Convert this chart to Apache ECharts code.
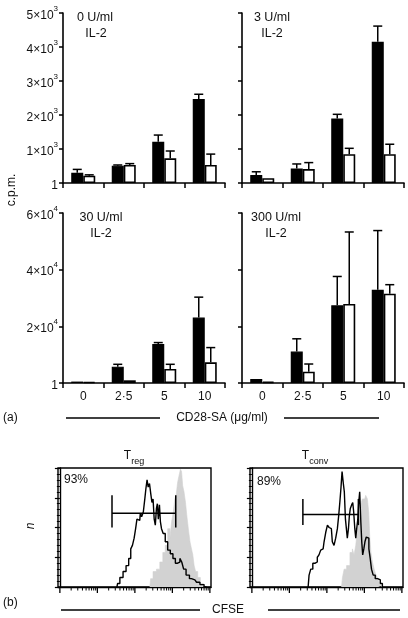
<!DOCTYPE html>
<html>
<head>
<meta charset="utf-8">
<script src="https://cdn.jsdelivr.net/npm/echarts@6/dist/echarts.min.js"></script>
<style>html,body{margin:0;padding:0;background:#fff}#c{width:408px;height:618px}</style>
</head>
<body>
<div id="c"></div>
<script>
// ---------- data (a): c.p.m. vs CD28-SA dose ----------
const doseCats = ['0', '2·5', '5', '10'];
const il2Panels = ['0 U/ml', '3 U/ml', '30 U/ml', '300 U/ml'];
const yTicksSmall = ['1', '1×10^3', '2×10^3', '3×10^3', '4×10^3', '5×10^3'];
const yTicksLarge = ['1', '2×10^4', '4×10^4', '6×10^4'];

const tregU0 = [300, 510, 1215, 2470];
const tregU0Err = [100, 20, 195, 140];
const tconvU0 = [215, 530, 726, 530];
const tconvU0Err = [25, 40, 215, 320];

const tregU3 = [235, 430, 1900, 4155];
const tregU3Err = [95, 130, 120, 460];
const tconvU3 = [140, 410, 845, 845];
const tconvU3Err = [0, 190, 175, 295];

const tregU30 = [500, 5770, 13800, 23100];
const tregU30Err = [0, 830, 470, 7200];
const tconvU30 = [400, 950, 4950, 7300];
const tconvU30Err = [0, 0, 1650, 5200];

const tregU300 = [1400, 11100, 27400, 32900];
const tregU300Err = [0, 4500, 10200, 20900];
const tconvU300 = [460, 4000, 27900, 31500];
const tconvU300Err = [0, 2700, 25400, 3200];

// ---------- data (b): CFSE histograms (x = log10 intensity, y = % of max) ----------
const tregLineX = [1.52,1.56,1.64,1.73,1.80,1.87,1.91,1.96,2.00,2.04,2.07,2.13,2.16,2.20,2.25,2.28,2.31,2.34,2.37,2.41,2.44,2.47,2.50,2.53,2.56,2.59,2.61,2.64,2.67,2.69,2.73,2.78,2.84,2.91,2.98,3.05,3.11,3.17,3.23,3.27,3.33,3.40,3.51,3.60,3.69,3.78,3.91];
const tregLineN = [0,3,8,13,18,24,32,35,41,49,57,56,62,59,63,74,83,90,84,87,78,71,74,57,52,66,70,57,69,55,49,45,38,31,28,24,20,21,24,21,15,10,7,6,4,2,0];
const tregCtrlX = [2.40,2.44,2.53,2.62,2.71,2.78,2.84,2.91,2.96,3.00,3.05,3.08,3.12,3.16,3.20,3.23,3.26,3.29,3.33,3.37,3.40,3.45,3.49,3.53,3.56,3.60,3.64,3.71,3.78,3.87];
const tregCtrlN = [0,7,13,15,21,29,35,49,41,55,63,74,77,88,94,99,97,85,80,71,60,49,38,32,27,18,13,8,3,0];
const tregGate = [1.39, 3.09, 62, 77, 50];   // from, to, level, tick top, tick bottom
const tregPct = '93%';

const tconvLineX = [1.50,1.55,1.59,1.66,1.72,1.77,1.81,1.86,1.90,1.95,1.99,2.04,2.08,2.12,2.17,2.21,2.26,2.30,2.33,2.36,2.39,2.42,2.45,2.48,2.51,2.53,2.56,2.59,2.61,2.64,2.68,2.70,2.73,2.76,2.78,2.81,2.84,2.86,2.89,2.92,2.94,2.97,3.00,3.03,3.07,3.10,3.14,3.17,3.21,3.26,3.32,3.39,3.46,3.50];
const tconvLineN = [0,10,15,20,21,25,27,31,32,38,46,52,50,49,38,35,41,49,60,71,83,97,88,80,57,49,41,49,60,66,69,71,63,49,41,49,57,71,80,55,38,27,32,38,42,41,32,24,15,10,7,6,3,0];
const tconvCtrlX = [2.39,2.44,2.48,2.57,2.66,2.70,2.75,2.79,2.84,2.88,2.92,2.97,3.01,3.06,3.10,3.13,3.16,3.19,3.24,3.28,3.32,3.37,3.41,3.46,3.48];
const tconvCtrlN = [0,8,15,18,29,32,27,35,49,57,69,74,74,77,74,63,41,29,21,15,11,8,4,1,0];
const tconvGate = [1.36, 2.84, 61, 74, 52];
const tconvPct = '89%';

// ---------- build ----------
const FONT = '"Liberation Sans", Arial, sans-serif';
const chart = echarts.init(document.getElementById('c'), null, {renderer: 'canvas'});

function supLabel(s) {
  const p = s.split('^');
  return p.length > 1 ? '{b|' + p[0] + '}{s|' + p[1] + '}' : '{b|' + p[0] + '}';
}
const richTick = {
  b: {fontFamily: FONT, fontSize: 12, color: '#111', padding: [5, 0, 0, 0]},
  s: {fontFamily: FONT, fontSize: 8, color: '#111', verticalAlign: 'top'}
};

const barGrids = [
  {left: 63, top: 13, width: 162, height: 170},
  {left: 242, top: 13, width: 162, height: 170},
  {left: 63, top: 213, width: 162, height: 170},
  {left: 242, top: 213, width: 162, height: 170}
];
const panelMax = [5000, 5000, 60000, 60000];
const panelInt = [1000, 1000, 20000, 20000];
const panelTicks = [yTicksSmall, null, yTicksLarge, null];
const panelTreg = [tregU0, tregU3, tregU30, tregU300];
const panelTregErr = [tregU0Err, tregU3Err, tregU30Err, tregU300Err];
const panelTconv = [tconvU0, tconvU3, tconvU30, tconvU300];
const panelTconvErr = [tconvU0Err, tconvU3Err, tconvU30Err, tconvU300Err];
const showCatLabels = [false, false, true, true];

const grids = [], xAxes = [], yAxes = [], series = [];
const axisLine = {show: true, lineStyle: {color: '#000', width: 1.6}};

barGrids.forEach((g, i) => {
  grids.push(Object.assign({containLabel: false}, g));
  xAxes.push({
    type: 'category', gridIndex: i, data: doseCats,
    axisLine: axisLine, axisTick: {show: true, length: 5, lineStyle: {color: '#000', width: 1.5}},
    axisLabel: {show: showCatLabels[i], color: '#111', fontFamily: FONT, fontSize: 12, margin: 8},
    splitLine: {show: false}
  });
  const ticks = panelTicks[i];
  yAxes.push({
    type: 'value', gridIndex: i, min: 0, max: panelMax[i], interval: panelInt[i],
    axisLine: axisLine, axisTick: {show: true, length: 4, lineStyle: {color: '#000', width: 1.5}},
    axisLabel: ticks ? {show: true, margin: 5, rich: richTick,
      formatter: (v) => supLabel(ticks[Math.round(v / panelInt[i])])} : {show: false},
    splitLine: {show: false}
  });
  series.push({
    type: 'bar', xAxisIndex: i, yAxisIndex: i, data: panelTreg[i], barWidth: 12, barGap: '0%',
    itemStyle: {color: '#000', borderColor: '#000', borderWidth: 1.2}, z: 2
  });
  series.push({
    type: 'bar', xAxisIndex: i, yAxisIndex: i, data: panelTconv[i], barWidth: 12, barGap: '0%',
    itemStyle: {color: '#fff', borderColor: '#000', borderWidth: 1.6}, z: 2
  });
  const errData = [];
  panelTreg[i].forEach((v, k) => errData.push([k, v, panelTregErr[i][k], -1]));
  panelTconv[i].forEach((v, k) => errData.push([k, v, panelTconvErr[i][k], 1]));
  series.push({
    type: 'custom', xAxisIndex: i, yAxisIndex: i, data: errData, z: 5,
    encode: {x: 0, y: 1},
    renderItem: function (params, api) {
      const e = api.value(2);
      if (!(e > 0)) return null;
      const c = api.value(0), m = api.value(1), side = api.value(3);
      const p0 = api.coord([c, m]), p1 = api.coord([c, m + e]);
      const x = p0[0] + side * 6;
      return {type: 'group', children: [
        {type: 'line', shape: {x1: x, y1: p0[1], x2: x, y2: p1[1]}, style: {stroke: '#000', lineWidth: 1.5}},
        {type: 'line', shape: {x1: x - 4.5, y1: p1[1], x2: x + 4.5, y2: p1[1]}, style: {stroke: '#000', lineWidth: 1.5}}
      ]};
    }
  });
});

// histogram grids
const histGrids = [
  {left: 58, top: 468, width: 153, height: 119},
  {left: 250, top: 468, width: 153, height: 119}
];
const majorDec = [0, 1, 2, 3, 4];
const tickMarks = [];
majorDec.forEach(d => {
  tickMarks.push([d, 1]);
  for (let k = 2; k <= 9; k++) { if (d + Math.log10(k) < 4.03) tickMarks.push([d + Math.log10(k), 0]); }
});
const histSets = [
  {lx: tregLineX, ln: tregLineN, cx: tregCtrlX, cn: tregCtrlN, gate: tregGate},
  {lx: tconvLineX, ln: tconvLineN, cx: tconvCtrlX, cn: tconvCtrlN, gate: tconvGate}
];
const zip = (a, b) => a.map((v, k) => [v, b[k]]);

histGrids.forEach((g, j) => {
  const gi = 4 + j;
  grids.push(Object.assign({show: true, borderColor: '#000', borderWidth: 1.4, backgroundColor: 'transparent'}, g));
  const xi = xAxes.length;
  xAxes.push({
    type: 'value', gridIndex: gi, min: -0.05, max: 4.03, position: 'bottom',
    axisLine: {show: true, lineStyle: {color: '#000', width: 1.4}},
    axisTick: {show: false}, axisLabel: {show: false}, splitLine: {show: false}
  });
  const yi = yAxes.length;
  yAxes.push({
    type: 'value', gridIndex: gi, min: 0, max: 100, interval: 25,
    axisLine: {show: true, lineStyle: {color: '#000', width: 1.4}},
    axisTick: {show: true, length: 5, lineStyle: {color: '#000', width: 1.2}},
    minorTick: {show: true, splitNumber: 5, length: 3, lineStyle: {color: '#000', width: 1}},
    axisLabel: {show: false}, splitLine: {show: false}, minorSplitLine: {show: false}
  });
  const s = histSets[j];
  series.push({
    type: 'line', xAxisIndex: xi, yAxisIndex: yi, data: zip(s.cx, s.cn), step: 'middle',
    showSymbol: false, lineStyle: {width: 0.6, color: '#d2d2d2'}, areaStyle: {color: '#d2d2d2', opacity: 1}, z: 2
  });
  series.push({
    type: 'line', xAxisIndex: xi, yAxisIndex: yi, data: zip(s.lx, s.ln), step: 'middle',
    showSymbol: false, lineStyle: {width: 1.4, color: '#000'}, z: 3
  });
  series.push({
    type: 'custom', xAxisIndex: xi, yAxisIndex: yi, data: [s.gate], z: 4,
    encode: {x: [0, 1], y: [2, 3, 4]},
    renderItem: function (params, api) {
      const a = api.coord([api.value(0), api.value(2)]);
      const b = api.coord([api.value(1), api.value(2)]);
      const t = api.coord([api.value(0), api.value(3)]);
      const u = api.coord([api.value(0), api.value(4)]);
      const st = {stroke: '#000', lineWidth: 1.5};
      return {type: 'group', children: [
        {type: 'line', shape: {x1: a[0], y1: a[1], x2: b[0], y2: b[1]}, style: st},
        {type: 'line', shape: {x1: a[0], y1: t[1], x2: a[0], y2: u[1]}, style: st},
        {type: 'line', shape: {x1: b[0], y1: t[1], x2: b[0], y2: u[1]}, style: st}
      ]};
    }
  });
  // log-decade tick marks on the CFSE axis
  series.push({
    type: 'custom', xAxisIndex: xi, yAxisIndex: yi, data: tickMarks, z: 6, clip: false, silent: true,
    encode: {x: 0},
    renderItem: function (params, api) {
      const p = api.coord([api.value(0), 0]);
      const len = api.value(1) ? 6 : 3.5;
      return {type: 'line', shape: {x1: p[0], y1: p[1], x2: p[0], y2: p[1] + len},
        style: {stroke: '#000', lineWidth: api.value(1) ? 1.3 : 1}};
    }
  });
});

const txt = (x, y, text, extra) => ({
  type: 'text', x: x, y: y,
  style: Object.assign({text: text, fill: '#111', font: '12px ' + FONT, textAlign: 'center', textVerticalAlign: 'middle'}, extra || {})
});

const graphics = [
  txt(95, 18, il2Panels[0], {font: '12.5px ' + FONT}), txt(96, 34, 'IL-2', {font: '12.5px ' + FONT}),
  txt(272, 18, il2Panels[1], {font: '12.5px ' + FONT}), txt(272, 34, 'IL-2', {font: '12.5px ' + FONT}),
  txt(101, 218, il2Panels[2], {font: '12.5px ' + FONT}), txt(101, 234, 'IL-2', {font: '12.5px ' + FONT}),
  txt(276, 218, il2Panels[3], {font: '12.5px ' + FONT}), txt(276, 234, 'IL-2', {font: '12.5px ' + FONT}),
  {type: 'text', x: 12, y: 190, rotation: Math.PI / 2,
    style: {text: 'c.p.m.', fill: '#111', font: '12px ' + FONT, textAlign: 'center', textVerticalAlign: 'middle'}},
  txt(3, 418, '(a)', {textAlign: 'left'}),
  txt(222, 418, 'CD28-SA (μg/ml)'),
  {type: 'line', shape: {x1: 66, y1: 418, x2: 160, y2: 418}, style: {stroke: '#000', lineWidth: 1.5}},
  {type: 'line', shape: {x1: 284, y1: 418, x2: 379, y2: 418}, style: {stroke: '#000', lineWidth: 1.5}},
  {type: 'text', x: 134, y: 458, style: {text: '{t|T}{s|reg}', textAlign: 'center', textVerticalAlign: 'middle',
    rich: {t: {font: '12px ' + FONT, fill: '#111', padding: [0, 0, 5, 0]}, s: {font: '9px ' + FONT, fill: '#111', verticalAlign: 'bottom'}}}},
  {type: 'text', x: 315, y: 458, style: {text: '{t|T}{s|conv}', textAlign: 'center', textVerticalAlign: 'middle',
    rich: {t: {font: '12px ' + FONT, fill: '#111', padding: [0, 0, 5, 0]}, s: {font: '9px ' + FONT, fill: '#111', verticalAlign: 'bottom'}}}},
  txt(64, 480, tregPct, {textAlign: 'left'}),
  txt(257, 482, tconvPct, {textAlign: 'left'}),
  {type: 'text', x: 31, y: 526, rotation: Math.PI / 2,
    style: {text: 'n', fill: '#111', font: 'italic 12px ' + FONT, textAlign: 'center', textVerticalAlign: 'middle'}},
  txt(3, 603, '(b)', {textAlign: 'left'}),
  {type: 'line', shape: {x1: 61, y1: 610, x2: 200, y2: 610}, style: {stroke: '#000', lineWidth: 1.5}},
  {type: 'line', shape: {x1: 268, y1: 610, x2: 400, y2: 610}, style: {stroke: '#000', lineWidth: 1.5}},
  txt(228, 610, 'CFSE')
];

chart.setOption({
  animation: false,
  backgroundColor: '#fff',
  textStyle: {fontFamily: FONT},
  grid: grids, xAxis: xAxes, yAxis: yAxes, series: series,
  graphic: graphics
});
</script>
</body>
</html>
